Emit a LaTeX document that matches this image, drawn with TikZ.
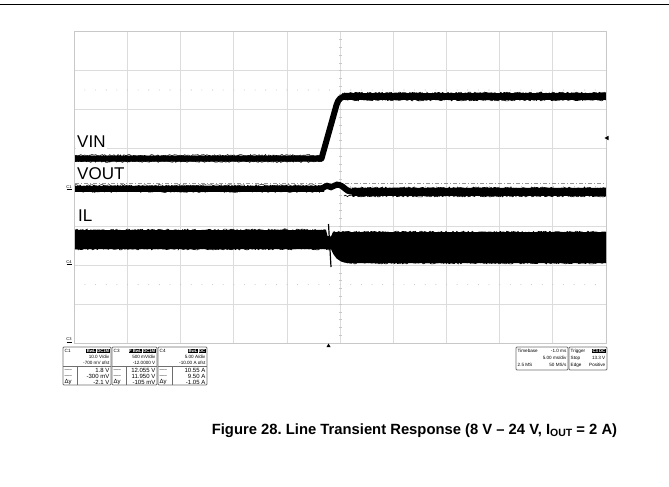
\documentclass[tikz,border=0pt]{standalone}
\usepackage{fontspec}
\setmainfont{Liberation Sans}
\usetikzlibrary{decorations.pathmorphing}
\definecolor{gridc}{RGB}{220,220,220}
\definecolor{borderc}{RGB}{200,200,200}
\definecolor{boxc}{RGB}{110,110,110}
\definecolor{dashc}{RGB}{150,150,150}
\tikzset{
  gridline/.style={draw=gridc, line width=0.9pt},
  trace/.style={line width=6pt, draw=black},
  noisy/.style={draw=black, decorate, decoration={random steps, segment length=1.3pt, amplitude=0.9pt}, line width=0.6pt},
  lbl/.style={fill=white, inner xsep=1pt, inner ysep=2pt, font=\fontsize{17}{17}\selectfont, anchor=base west},
  chmark/.style={font=\fontsize{4}{4}\selectfont, inner sep=0pt},
  infobox/.style={draw=boxc, line width=0.8pt, rounded corners=1pt},
  tiny/.style={font=\fontsize{4.6}{5}\selectfont, inner sep=0pt},
  val/.style={font=\fontsize{6}{6}\selectfont, inner sep=0pt},
  badge/.style={fill=black, text=white, font=\fontsize{4.2}{4.5}\selectfont\bfseries, inner xsep=0.6pt, inner ysep=0.6pt},
}
\frenchspacing
\begin{document}
\pgfmathsetseed{7}
\begin{tikzpicture}[x=1pt,y=-1pt]
\useasboundingbox (0,0) rectangle (669,487);
% top rule
\draw[line width=1.2pt] (0,4.5) -- (669,4.5);
% grid
\foreach \i in {1,...,9} \draw[gridline] ({74.3+53.17*\i},31.7) -- ({74.3+53.17*\i},343);
\foreach \j in {1,...,7} \draw[gridline] (74.3,{31.7+38.91*\j}) -- (606,{31.7+38.91*\j});
\draw[draw=borderc, line width=1pt] (74.3,31.7) rectangle (606,343);
% center ticks
\foreach \k in {1,...,39} \draw[draw=borderc, line width=0.6pt] (338.6,{31.7+7.782*\k}) -- (341.7,{31.7+7.782*\k});
\foreach \k in {1,...,49} \draw[draw=borderc, line width=0.6pt] ({74.3+10.634*\k},185.8) -- ({74.3+10.634*\k},188.8);
\foreach \k in {1,...,49} {
  \fill[borderc] ({74.3+10.634*\k},90) circle (0.55);
  \fill[borderc] ({74.3+10.634*\k},284.6) circle (0.55);
}
% reference dash-dot line
\draw[draw=dashc, line width=0.6pt, dash pattern=on 4pt off 2pt on 1pt off 2pt] (75,183) -- (606,183);
% labels
\node[lbl] (vin) at (76,147.3) {VIN};
\node[lbl] (vout) at (76,179) {VOUT};
\node[lbl] (il) at (77,221.6) {IL};
% channel markers
\node[chmark] (m1) at (69,187) {C1};
\draw[line width=0.4pt] (66.5,189.5) -- (71.5,189.5);
\node[chmark] (m4) at (69,262) {C4};
\draw[line width=0.4pt] (66.5,264.5) -- (71.5,264.5);
\node[chmark] (m3) at (69,339.5) {C3};
\draw[line width=0.4pt] (66.5,342) -- (71.5,342);
% trigger markers
\fill (604.5,138) -- (608.5,135.8) -- (608.5,140.2) -- cycle;
\fill (328.5,343.5) -- (326.5,347) -- (330.5,347) -- cycle;
% VIN trace
\draw[trace, line join=round] (75,158.5) -- (321.5,158.5) -- (336.5,105) .. controls (338.5,99) and (340.5,96.5) .. (347,96.5);
\draw[trace, line width=7pt] (344,96.5) -- (606,96.5);
\draw[noisy] (75,155.5) -- (321,155.5);
\draw[noisy] (75,161.5) -- (322,161.5);
\draw[noisy] (342,93) -- (606,93);
\draw[noisy] (345,100) -- (606,100);
% VOUT trace
\draw[trace] (75,188.5) -- (324,188.5);
\draw[trace, line cap=round] plot[smooth] coordinates {(322,188.5) (327,185.8) (331,187.2) (337,184.6) (342,186.2) (348,190.8) (355,192)};
\draw[trace, line width=8pt] (352,192) -- (606,192);
\draw[noisy] (75,185.5) -- (322,185.5);
\draw[noisy] (75,191.5) -- (324,191.5);
\draw[noisy] (352,188) -- (606,188);
\draw[noisy] (344,196) -- (606,196);
% IL trace
\fill (75,230) -- (326,230) -- (327.5,236) -- (331,236.5) -- (333,232) -- (606,232) -- (606,263) -- (347,263) .. controls (338,262) and (334,257) .. (331,249) -- (75,249) -- cycle;
\draw[noisy] (75,230) -- (326,230);
\draw[noisy] (75,249) -- (330,249);
\draw[noisy] (333,232) -- (606,232);
\draw[noisy] (347,263) -- (606,263);
\draw[line width=1.2pt] (328.5,224) -- (331,267);
% ---- info boxes left ----
% C1
\draw[infobox] (63,347) rectangle (111,385);
\node[tiny, anchor=west] (c1h) at (64.5,350.8) {C1};
\node[badge, anchor=east] (c1b2) at (110,350.8) {DC1M};
\node[badge, anchor=east] (c1b1) at (c1b2.west) {BwL};
\node[tiny, anchor=east] (c1r2) at (109.5,357) {10.0 V/div};
\node[tiny, anchor=east] (c1r3) at (109.5,363) {-700 mV ofst};
\draw[draw=boxc, line width=0.4pt] (63,366) -- (111,366);
\draw[draw=boxc, line width=0.4pt] (77,366) -- (77,385);
\node[tiny, anchor=west] (c1d1) at (64.5,370.5) {-----};
\node[val, anchor=east] (c1v1) at (109.5,370.5) {1.8 V};
\node[tiny, anchor=west] (c1d2) at (64.5,376.5) {-----};
\node[val, anchor=east] (c1v2) at (109.5,376.5) {-300 mV};
\node[val, anchor=west] (c1d3) at (64.5,382) {Δy};
\node[val, anchor=east] (c1v3) at (109.5,382) {-2.1 V};
% C3
\draw[infobox] (112,347) rectangle (157,385);
\node[tiny, anchor=west] (c3h) at (113.5,350.8) {C3};
\node[badge, anchor=east] (c3b2) at (156,350.8) {DC1M};
\node[badge, anchor=east] (c3b1) at (c3b2.west) {F BwL};
\node[tiny, anchor=east] (c3r2) at (155.5,357) {500 mV/div};
\node[tiny, anchor=east] (c3r3) at (155.5,363) {-12.0000 V};
\draw[draw=boxc, line width=0.4pt] (112,366) -- (157,366);
\draw[draw=boxc, line width=0.4pt] (126,366) -- (126,385);
\node[tiny, anchor=west] (c3d1) at (113.5,370.5) {-----};
\node[val, anchor=east] (c3v1) at (155.5,370.5) {12.055 V};
\node[tiny, anchor=west] (c3d2) at (113.5,376.5) {-----};
\node[val, anchor=east] (c3v2) at (155.5,376.5) {11.950 V};
\node[val, anchor=west] (c3d3) at (113.5,382) {Δy};
\node[val, anchor=east] (c3v3) at (155.5,382) {-105 mV};
% C4
\draw[infobox] (158,347) rectangle (207,385);
\node[tiny, anchor=west] (c4h) at (159.5,350.8) {C4};
\node[badge, anchor=east] (c4b2) at (206,350.8) {DC};
\node[badge, anchor=east] (c4b1) at (c4b2.west) {BwL};
\node[tiny, anchor=east] (c4r2) at (205.5,357) {5.00 A/div};
\node[tiny, anchor=east] (c4r3) at (205.5,363) {-10.00 A ofst};
\draw[draw=boxc, line width=0.4pt] (158,366) -- (207,366);
\draw[draw=boxc, line width=0.4pt] (172,366) -- (172,385);
\node[tiny, anchor=west] (c4d1) at (159.5,370.5) {-----};
\node[val, anchor=east] (c4v1) at (205.5,370.5) {10.55 A};
\node[tiny, anchor=west] (c4d2) at (159.5,376.5) {-----};
\node[val, anchor=east] (c4v2) at (205.5,376.5) {9.50 A};
\node[val, anchor=west] (c4d3) at (159.5,382) {Δy};
\node[val, anchor=east] (c4v3) at (205.5,382) {-1.05 A};
% ---- info boxes right ----
\draw[infobox] (516,347) rectangle (568,370);
\node[tiny, anchor=west] (tb1) at (517.5,351) {Timebase};
\node[tiny, anchor=east] (tb2) at (566.5,351) {-1.0 ms};
\node[tiny, anchor=east] (tb3) at (566.5,358) {5.00 ms/div};
\node[tiny, anchor=west] (tb4) at (517.5,365) {2.5 MS};
\node[tiny, anchor=east] (tb5) at (566.5,365) {50 MS/s};
\draw[infobox] (569,347) rectangle (607,370);
\node[tiny, anchor=west] (tr1) at (570.5,351) {Trigger};
\node[badge, anchor=east] (tr2) at (606,351) {C3 DC};
\node[tiny, anchor=west] (tr3) at (570.5,358) {Stop};
\node[tiny, anchor=east] (tr4) at (605.5,358) {13.3 V};
\node[tiny, anchor=west] (tr5) at (570.5,365) {Edge};
\node[tiny, anchor=east] (tr6) at (605.5,365) {Positive};
% caption
\node[font=\bfseries\fontsize{14.8}{16}\selectfont, anchor=base, inner sep=0pt] (cap) at (414.5,434) {Figure 28. Line Transient Response (8 V – 24 V, I\raisebox{-0.35ex}{\fontsize{10.5}{10.5}\selectfont OUT} = 2 A)};
\end{tikzpicture}
\end{document}
